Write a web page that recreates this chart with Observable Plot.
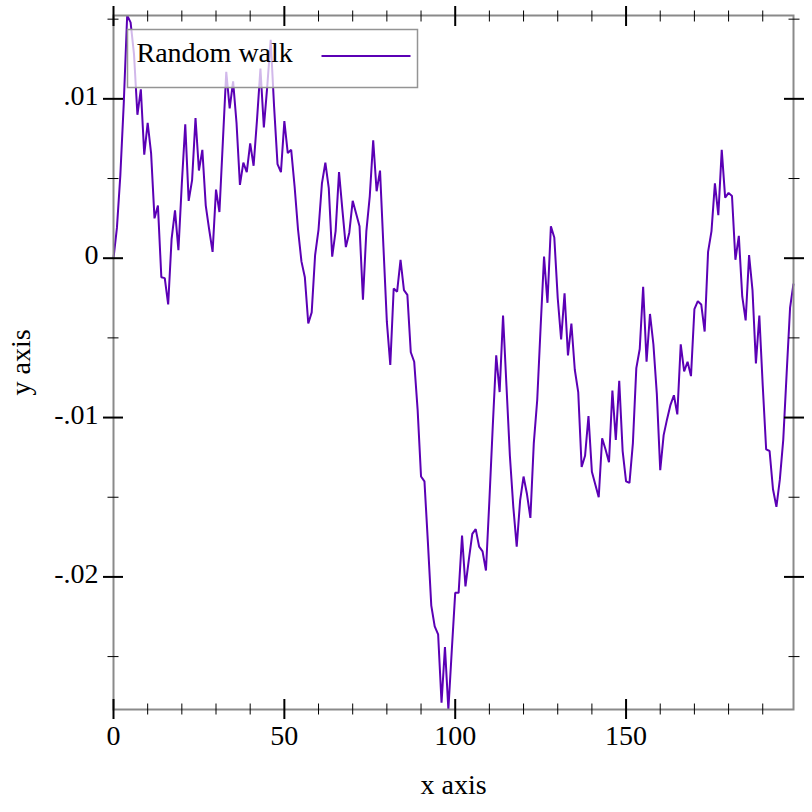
<!DOCTYPE html>
<html>
<head>
<meta charset="utf-8">
<script src="https://cdn.jsdelivr.net/npm/d3@7"></script>
<script src="https://cdn.jsdelivr.net/npm/@observablehq/plot@0.6"></script>
<style>
  html, body { margin: 0; padding: 0; background: white; }
</style>
</head>
<body>
<div id="chart"></div>
<script>
// Random walk values, one per step (x = 0 .. 199)
const walk = [
  0, 0.0019, 0.0052, 0.0097, 0.01523, 0.0148, 0.0128, 0.0090, 0.0106, 0.0065,
  0.0085, 0.0066, 0.0025, 0.0033, -0.0012, -0.00125, -0.0029, 0.0012, 0.0030, 0.0005,
  0.0047, 0.0084, 0.0036, 0.0049, 0.0088, 0.0055, 0.0068, 0.0033, 0.0018, 0.0004,
  0.0043, 0.0029, 0.0073, 0.0117, 0.0094, 0.0111, 0.0085, 0.0046, 0.0060, 0.0054,
  0.0072, 0.0058, 0.0087, 0.0119, 0.0082, 0.0108, 0.0137, 0.0095, 0.0059, 0.0054,
  0.0086, 0.0066, 0.0068, 0.0045, 0.0018, -0.0002, -0.0012, -0.0041, -0.0034, 0.0002,
  0.0018, 0.0047, 0.0060, 0.0044, 0.0001, 0.0017, 0.0054, 0.0030, 0.0007, 0.0016,
  0.0036, 0.0028, 0.0020, -0.0026, 0.0017, 0.0039, 0.0074, 0.0042, 0.0055, 0.0007,
  -0.0040, -0.0067, -0.0019, -0.0021, -0.0001, -0.0020, -0.0023, -0.0059, -0.0065, -0.0095,
  -0.0137, -0.0140, -0.0178, -0.0218, -0.0231, -0.0236, -0.0279, -0.0244, -0.02832, -0.0246,
  -0.0210, -0.0210, -0.0174, -0.0206, -0.0189, -0.0173, -0.0170, -0.0181, -0.0184, -0.0196,
  -0.0152, -0.0105, -0.0061, -0.0084, -0.0036, -0.0080, -0.0124, -0.0156, -0.0181, -0.0152,
  -0.0137, -0.0148, -0.0163, -0.0116, -0.0089, -0.0043, 0.0001, -0.0028, 0.0020, 0.0013,
  -0.0025, -0.0051, -0.0022, -0.0061, -0.0041, -0.0070, -0.0084, -0.0131, -0.0124, -0.0099,
  -0.0134, -0.0142, -0.0150, -0.0113, -0.0120, -0.0128, -0.0083, -0.0114, -0.0077, -0.0121,
  -0.0140, -0.0141, -0.0116, -0.0069, -0.0057, -0.0018, -0.0065, -0.0035, -0.0054, -0.0085,
  -0.0133, -0.0111, -0.0101, -0.0092, -0.0086, -0.0098, -0.0054, -0.0071, -0.0065, -0.0074,
  -0.0032, -0.0027, -0.0029, -0.0046, 0.0004, 0.0017, 0.0047, 0.0027, 0.0068, 0.0038,
  0.0041, 0.0039, -0.0001, 0.0014, -0.0024, -0.0039, 0.0002, -0.0020, -0.0066, -0.0036,
  -0.0080, -0.0120, -0.0121, -0.0145, -0.0156, -0.0139, -0.0114, -0.0072, -0.0031, -0.0016
];

// Tick values and labels
const xMajorTicks = [0, 50, 100, 150];
const xMajorLabels = ["0", "50", "100", "150"];
const xMinorTicks = [10, 20, 30, 40, 60, 70, 80, 90, 110, 120, 130, 140, 160, 170, 180, 190];
const yMajorTicks = [0.01, 0, -0.01, -0.02];
const yMajorLabels = [".01", "0", "-.01", "-.02"];
const yMinorTicks = [0.015, 0.005, -0.005, -0.015, -0.025];

const seriesName = ["Random walk"];
const xTitle = ["x axis"];
const yTitle = ["y axis"];

const lineColor = "#5b00b5";
const xLabelMap = new Map(xMajorTicks.map((v, i) => [v, xMajorLabels[i]]));
const yLabelMap = new Map(yMajorTicks.map((v, i) => [v, yMajorLabels[i]]));

const W = 812, H = 812;
const mL = 113, mR = 19, mT = 15, mB = 103;

const tickAxis = (fn, data, anchor, size, width) => {
  const half = size / 2;
  const o = {anchor, tickSize: size, strokeWidth: width, stroke: "black", fill: "none", label: null};
  if (anchor === "bottom") o.dy = -half;
  if (anchor === "top") o.dy = half;
  if (anchor === "left") o.dx = half;
  if (anchor === "right") o.dx = -half;
  return fn(data, o);
};

const chart = Plot.plot({
  width: W,
  height: H,
  marginLeft: mL,
  marginRight: mR,
  marginTop: mT,
  marginBottom: mB,
  style: {fontFamily: "'Liberation Serif', 'Times New Roman', serif", fontSize: "28px", background: "white", color: "black"},
  x: {domain: [0, walk.length - 1], axis: null},
  y: {domain: d3.extent(walk), axis: null},
  marks: [
    Plot.line(walk, {x: (d, i) => i, y: d => d, stroke: lineColor, strokeWidth: 2, strokeLinejoin: "miter", strokeLinecap: "butt"}),
    // legend box
    Plot.frame({insetLeft: 14, insetTop: 14, insetRight: 376, insetBottom: 622, fill: "white", fillOpacity: 0.72, stroke: "#949494", strokeWidth: 1.5}),
    Plot.text(seriesName, {text: d => d, frameAnchor: "top-left", dx: 23, dy: 46, lineAnchor: "bottom", textAnchor: "start", fill: "black"}),
    Plot.frame({insetLeft: 208, insetRight: 383, insetTop: 39.5, insetBottom: 652.5, fill: lineColor, stroke: null}),
    // plot frame
    Plot.frame({stroke: "#8a8a8a", strokeWidth: 2}),
    // ticks
    tickAxis(Plot.axisX, xMajorTicks, "bottom", 20, 2),
    tickAxis(Plot.axisX, xMinorTicks, "bottom", 11, 1),
    tickAxis(Plot.axisX, xMajorTicks, "top", 20, 2),
    tickAxis(Plot.axisX, xMinorTicks, "top", 11, 1),
    tickAxis(Plot.axisY, yMajorTicks, "left", 20, 2),
    tickAxis(Plot.axisY, yMinorTicks, "left", 11, 1),
    tickAxis(Plot.axisY, yMajorTicks, "right", 20, 2),
    tickAxis(Plot.axisY, yMinorTicks, "right", 11, 1),
    // tick labels
    Plot.axisX(xMajorTicks, {anchor: "bottom", tickSize: 0, tickPadding: 16, tickFormat: d => xLabelMap.get(d), label: null, fill: "black"}),
    Plot.axisY(yMajorTicks, {anchor: "left", tickSize: 0, tickPadding: 15, tickFormat: d => yLabelMap.get(d), label: null, fill: "black", dy: -3}),
    // axis titles
    Plot.text(xTitle, {text: d => d, frameAnchor: "bottom", dy: 84, lineAnchor: "bottom", textAnchor: "middle", fill: "black"}),
    Plot.text(yTitle, {text: d => d, frameAnchor: "left", dx: -84, rotate: -90, lineAnchor: "bottom", textAnchor: "middle", fill: "black"})
  ]
});
document.getElementById("chart").appendChild(chart);
</script>
</body>
</html>
